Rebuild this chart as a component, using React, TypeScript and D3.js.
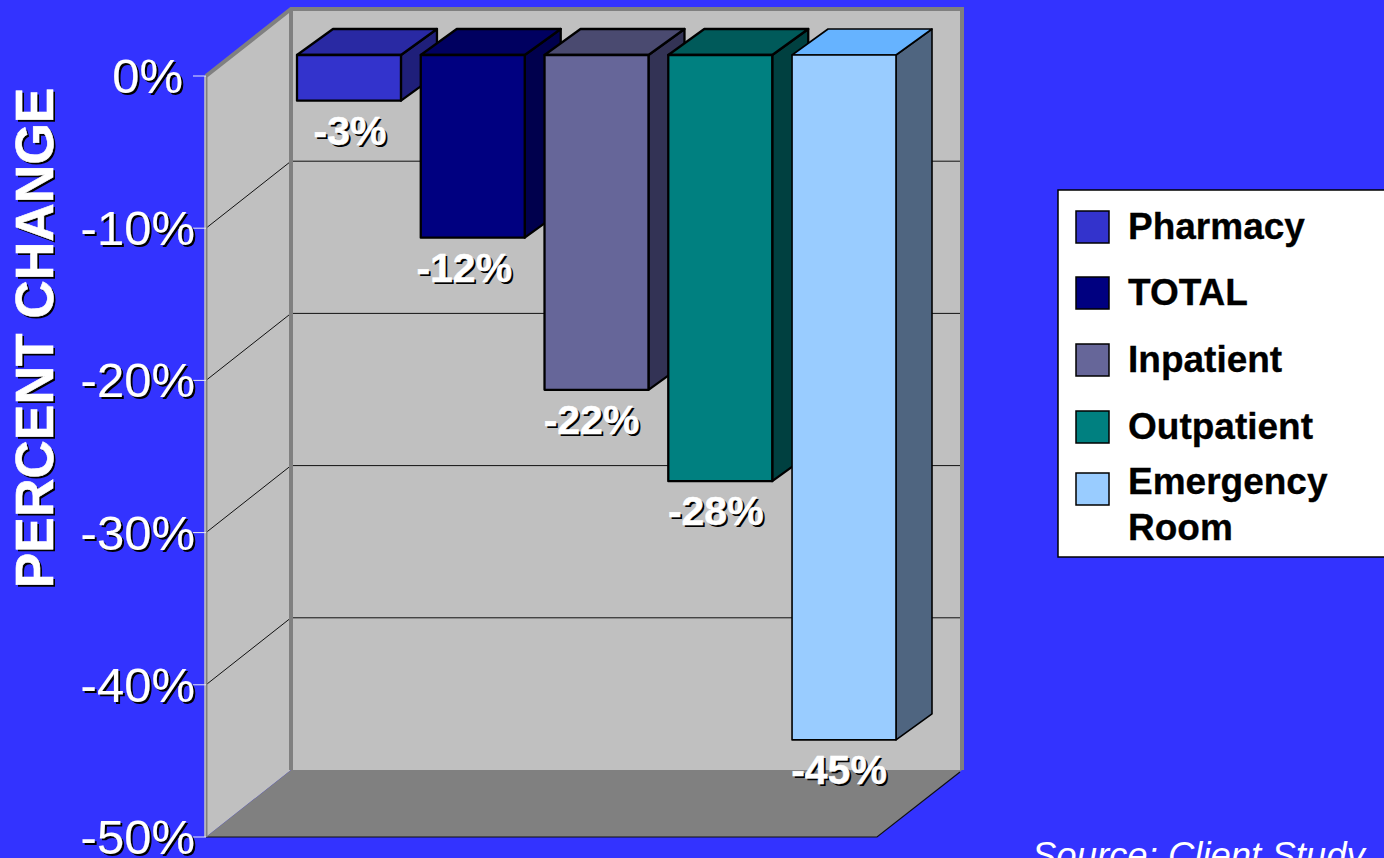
import React from "react";
import * as d3 from "d3";

// Percent change by service line
const categories = ["Pharmacy", "TOTAL", "Inpatient", "Outpatient", "Emergency Room"];
const changes = [-3, -12, -22, -28, -45];
const frontColors = ["#3333cc", "#000080", "#666699", "#008080", "#99ccff"];
const topColors = ["#2929a3", "#000060", "#4a4a70", "#005a5a", "#66b3ff"];
const sideColors = ["#1f1f7a", "#00004d", "#333355", "#004040", "#4f6580"];
const axisTicks = [0, -10, -20, -30, -40, -50];
const legendLines = [["Pharmacy"], ["TOTAL"], ["Inpatient"], ["Outpatient"], ["Emergency", "Room"]];

const FONT = "'Liberation Sans', Arial, sans-serif";
const BG = "#3333ff";
const WALL = "#c0c0c0";
const FLOOR = "#808080";

// Chart frame: the front-left axis plus the oblique depth of the box
const axisX = 206;
const frontRight = 877;
const depthX = 85;
const depthY = -67;
const y = d3.scaleLinear().domain([0, -50]).range([76, 837]);

// Bars sit part-way into the box
const barFrontLift = -21;
const barDepthX = 36;
const barDepthY = -26;
const x = d3.scaleBand<string>().domain(categories).range([297, 896]).paddingInner(0.16).paddingOuter(0);

// Value labels are set slightly left of each bar's centre
const labelNudge = [1, -8.5, -5, -4.5, -5];

const poly = d3.line<[number, number]>().curve(d3.curveLinearClosed);

function Shadowed({ tx, ty, size, weight, anchor, children }: any) {
  const common = { fontFamily: FONT, fontSize: size, fontWeight: weight, textAnchor: anchor };
  return (
    <g>
      <text x={tx + 2} y={ty + 2} fill="#000" {...common}>{children}</text>
      <text x={tx} y={ty} fill="#fff" stroke="#fff" strokeWidth={weight === 700 ? 0.5 : 0.15} {...common}>{children}</text>
    </g>
  );
}

export default function App() {
  const top = y(0);
  const bottom = y(-50);
  const legendRowY = [227, 293, 360, 427, 489];
  return (
    <svg width={1384} height={858} viewBox="0 0 1384 858"
      style={{ position: "absolute", left: 0, top: 0, display: "block", background: BG }}>
      {/* side wall, back wall and floor */}
      <path d={poly([[axisX, top], [axisX + depthX, top + depthY], [axisX + depthX, bottom + depthY], [axisX, bottom]])!} fill={WALL} />
      <rect x={axisX + depthX} y={top + depthY} width={frontRight - axisX} height={bottom - top} fill={WALL} />
      <path d={poly([[axisX, bottom], [axisX + depthX, bottom + depthY], [frontRight + depthX, bottom + depthY], [frontRight, bottom]])!} fill={FLOOR} />

      {/* gridlines across the side and back walls */}
      {axisTicks.filter((t) => t !== 0 && t !== -50).map((t) => (
        <g key={t} stroke="#111" strokeWidth={1} fill="none">
          <line x1={axisX} y1={y(t)} x2={axisX + depthX} y2={y(t) + depthY} />
          <line x1={axisX + depthX} y1={y(t) + depthY} x2={frontRight + depthX} y2={y(t) + depthY} />
        </g>
      ))}

      {/* box outline */}
      <path d={`M${axisX},${top}L${axisX + depthX},${top + depthY}L${frontRight + depthX},${top + depthY}L${frontRight + depthX},${bottom + depthY}`}
        fill="none" stroke={FLOOR} strokeWidth={4} />
      <line x1={axisX + depthX} y1={top + depthY} x2={axisX + depthX} y2={bottom + depthY} stroke={FLOOR} strokeWidth={4} />
      <path d={`M${axisX},${bottom}L${frontRight},${bottom}L${frontRight + depthX - 2},${bottom + depthY + 2}`} fill="none" stroke="#111" strokeWidth={1.2} />
      <line x1={axisX} y1={top} x2={axisX} y2={bottom} stroke={FLOOR} strokeWidth={3} />
      <line x1={axisX - 1} y1={top} x2={axisX - 1} y2={bottom} stroke="#e8e8f0" strokeWidth={1} />

      {/* axis ticks and labels */}
      {axisTicks.map((t) => (
        <g key={t}>
          <line x1={axisX - 13} y1={y(t)} x2={axisX} y2={y(t)} stroke="#e8e8f8" strokeWidth={1} />
          <Shadowed tx={t === 0 ? 183 : 195} ty={y(t) + 17} size={49} weight={400} anchor="end">{`${t}%`}</Shadowed>
        </g>
      ))}

      {/* bars, left to right so each front overlaps the previous side */}
      {categories.map((c, i) => {
        const l = x(c)!;
        const r = l + x.bandwidth();
        const t = y(0) + barFrontLift;
        const b = y(changes[i]) + barFrontLift;
        const common = { stroke: "#000", strokeWidth: i === categories.length - 1 ? 1.6 : 2.3, strokeLinejoin: "round" as const };
        return (
          <g key={c}>
            <path d={poly([[r, t], [r + barDepthX, t + barDepthY], [r + barDepthX, b + barDepthY], [r, b]])!} fill={sideColors[i]} {...common} />
            <path d={poly([[l, t], [l + barDepthX, t + barDepthY], [r + barDepthX, t + barDepthY], [r, t]])!} fill={topColors[i]} {...common} />
            <rect x={l} y={t} width={r - l} height={b - t} fill={frontColors[i]} {...common} />
          </g>
        );
      })}

      {/* value labels */}
      {categories.map((c, i) => (
        <Shadowed key={c} tx={x(c)! + x.bandwidth() / 2 + labelNudge[i]} ty={y(changes[i]) + barFrontLift + 44} size={41} weight={700} anchor="middle">
          {`${changes[i]}%`}
        </Shadowed>
      ))}

      {/* axis title */}
      <g transform="translate(53,338) rotate(-90)">
        <text x={-2} y={2} textAnchor="middle" fill="#000" fontFamily={FONT} fontWeight={700} fontSize={53.3}>PERCENT CHANGE</text>
        <text textAnchor="middle" fill="#fff" stroke="#fff" strokeWidth={0.6} fontFamily={FONT} fontWeight={700} fontSize={53.3}>PERCENT CHANGE</text>
      </g>

      {/* legend */}
      <rect x={1058} y={190} width={340} height={367} fill="#fff" stroke="#000" strokeWidth={1.5} />
      {categories.map((c, i) => (
        <g key={c}>
          <rect x={1076} y={legendRowY[i] - 16} width={33} height={32} fill={frontColors[i]} stroke="#000" strokeWidth={1.5} />
          {legendLines[i].map((line, k) => (
            <text key={line} x={1128} y={legendLines[i].length === 1 ? legendRowY[i] + 11.5 : legendRowY[i] + 5 + k * 46}
              fontFamily={FONT} fontWeight={700} fontSize={37} fill="#000" stroke="#000" strokeWidth={0.3}>{line}</text>
          ))}
        </g>
      ))}

      <text x={1032} y={868} fontFamily={FONT} fontStyle="italic" fontSize={36.5} fill="#fff">Source: Client Study</text>
    </svg>
  );
}
